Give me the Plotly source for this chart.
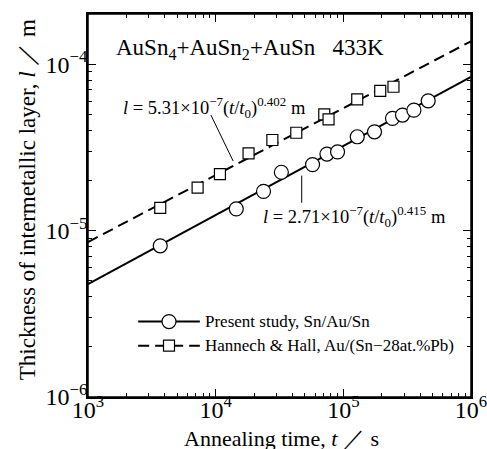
import plotly.graph_objects as go

# ---- data ----
present_t = [3680, 14500, 23700, 32700, 57400, 74400, 90100, 128500, 175400, 242700, 290800, 357000, 462000]
present_l = [8.1e-6, 1.35e-5, 1.72e-5, 2.24e-5, 2.49e-5, 2.88e-5, 2.97e-5, 3.66e-5, 3.92e-5, 4.72e-5, 4.94e-5, 5.29e-5, 6.02e-5]

hannech_t = [3680, 7220, 10800, 18100, 27800, 42800, 70900, 76600, 128500, 194500, 247000]
hannech_l = [1.37e-5, 1.81e-5, 2.18e-5, 2.91e-5, 3.50e-5, 3.87e-5, 4.99e-5, 4.66e-5, 6.14e-5, 6.91e-5, 7.31e-5]

# fit equations shown on the chart: l = a * (t/t0)^n, t0 = 1 s
fit_t = [1e3, 1e6]
present_fit = (2.71e-7, 0.415)
hannech_fit = (5.31e-7, 0.402)

x_ticks = [1e3, 1e4, 1e5, 1e6]
x_ticktext = ["10<sup>3</sup>", "10<sup>4</sup>", "10<sup>5</sup>", "10<sup>6</sup>"]
y_ticks = [1e-6, 1e-5, 1e-4]
y_ticktext = ["10<sup>−6</sup>", "10<sup>−5</sup>", "10<sup>−4</sup>"]

legend_names = ["Present study, Sn/Au/Sn", "Hannech & Hall, Au/(Sn−28at.%Pb)"]

FONT = "Liberation Serif, Times New Roman, serif"
XR = [3, 6]
YR = [-6, -3.699]


def fit_line(ab):
    a, n = ab
    return [a * t ** n for t in fit_t]


def px(f):  # fraction of plot width -> log-axis value (for legend sample placement)
    return 10 ** (XR[0] + f * (XR[1] - XR[0]))


def py(f):
    return 10 ** (YR[0] + f * (YR[1] - YR[0]))


minor_x = [m * 10 ** e for e in range(3, 6) for m in range(2, 10)]
minor_y = [m * 10 ** e for e in range(-6, -3) for m in range(2, 10)]

fig = go.Figure()

DASH = "11px,6px"
fig.add_trace(go.Scatter(x=fit_t, y=fit_line(hannech_fit), mode="lines",
                         line=dict(color="black", width=2, dash=DASH), showlegend=False))
fig.add_trace(go.Scatter(x=fit_t, y=fit_line(present_fit), mode="lines",
                         line=dict(color="black", width=2), showlegend=False))
fig.add_trace(go.Scatter(x=hannech_t, y=hannech_l, mode="markers",
                         marker=dict(symbol="square", size=11, color="white",
                                     line=dict(color="black", width=1.2)), showlegend=False))
fig.add_trace(go.Scatter(x=present_t, y=present_l, mode="markers",
                         marker=dict(symbol="circle", size=14, color="white",
                                     line=dict(color="black", width=1.2)), showlegend=False))

# hand-drawn legend samples
leg_rows = [0.197, 0.134]
leg_x = [0.131, 0.292]
leg_mid = 0.2115
for row, dash, sym, size in [(leg_rows[0], "solid", "circle", 14), (leg_rows[1], DASH, "square", 11)]:
    fig.add_trace(go.Scatter(x=[px(leg_x[0]), px(leg_x[1])], y=[py(row)] * 2, mode="lines",
                             line=dict(color="black", width=2, dash=dash), showlegend=False))
    fig.add_trace(go.Scatter(x=[px(leg_mid)], y=[py(row)], mode="markers",
                             marker=dict(symbol=sym, size=size, color="white",
                                         line=dict(color="black", width=1.2)), showlegend=False))

# invisible trace that carries the mirrored top/right tick axes
fig.add_trace(go.Scatter(x=fit_t, y=fit_line(present_fit), xaxis="x2", yaxis="y2", mode="lines",
                         line=dict(width=0, color="rgba(0,0,0,0)"), hoverinfo="skip", showlegend=False))

annotations = [
    dict(text="AuSn<sub>4</sub>+AuSn<sub>2</sub>+AuSn\u00a0\u00a0\u00a0433K", x=0.068, y=0.909,
         xanchor="left", yanchor="middle", font=dict(size=23)),
    dict(text="<i>l</i> = 5.31×10<sup>−7</sup>(<i>t</i>/<i>t</i><sub>0</sub>)<sup>0.402</sup> m",
         x=0.085, y=0.757, xanchor="left", yanchor="middle", font=dict(size=18.5)),
    dict(text="<i>l</i> = 2.71×10<sup>−7</sup>(<i>t</i>/<i>t</i><sub>0</sub>)<sup>0.415</sup> m",
         x=0.452, y=0.470, xanchor="left", yanchor="middle", font=dict(size=18.5)),
    dict(text=legend_names[0], x=0.300, y=leg_rows[0], xanchor="left", yanchor="middle", font=dict(size=17)),
    dict(text=legend_names[1], x=0.300, y=leg_rows[1], xanchor="left", yanchor="middle", font=dict(size=17)),
    dict(text="Annealing time, <i>t</i> ／ s", x=0.504, y=-0.108, xanchor="center", yanchor="middle",
         font=dict(size=22)),
    dict(text="Thickness of intermetallic layer, <i>l</i> ／ m", x=-0.159, y=0.514, textangle=-90,
         xanchor="center", yanchor="middle", font=dict(size=23)),
]
for a in annotations:
    a.update(xref="paper", yref="paper", showarrow=False)
    a["font"].update(family=FONT, color="black")

shapes = [
    dict(type="line", xref="paper", yref="paper", x0=0.321, y0=0.736, x1=0.379, y1=0.616,
         line=dict(color="black", width=1)),
    dict(type="line", xref="paper", yref="paper", x0=0.558, y0=0.578, x1=0.558, y1=0.507,
         line=dict(color="black", width=1)),
    dict(type="rect", xref="paper", yref="paper", x0=0, y0=0, x1=1, y1=1, layer="above",
         line=dict(color="black", width=1.5)),
]

axis_common = dict(showline=True, linecolor="black", linewidth=1.5, mirror="allticks",
                   ticks="inside", ticklen=8, tickwidth=1, tickcolor="black", automargin=False,
                   ticklabeloverflow="allow",
                   showgrid=False, zeroline=False, tickfont=dict(family=FONT, size=24, color="black"))
minor_common = dict(tickmode="array", ticks="inside", ticklen=4, tickcolor="black", tickwidth=1)

fig.update_layout(
    width=487, height=449,
    margin=dict(l=88, r=16, t=14, b=52),
    paper_bgcolor="white", plot_bgcolor="white",
    font=dict(family=FONT, color="black"),
    showlegend=False,
    xaxis=dict(type="log", range=XR, tickmode="array", tickvals=x_ticks, ticktext=x_ticktext,
               ticklabelstandoff=-10, minor=dict(tickvals=minor_x, **minor_common), **axis_common),
    yaxis=dict(type="log", range=YR, tickmode="array", tickvals=y_ticks, ticktext=y_ticktext,
               ticklabelstandoff=-6, minor=dict(tickvals=minor_y, **minor_common), **axis_common),
    xaxis2=dict(type="log", range=XR, overlaying="x", side="top", anchor="y2", tickmode="array",
                tickvals=x_ticks, showticklabels=False, ticks="inside", ticklen=8, tickcolor="black",
                showline=True, linecolor="black", linewidth=1.5, showgrid=False, zeroline=False,
                minor=dict(tickvals=minor_x, **minor_common)),
    yaxis2=dict(type="log", range=YR, overlaying="y", side="right", anchor="x2", tickmode="array",
                tickvals=y_ticks, showticklabels=False, ticks="inside", ticklen=8, tickcolor="black",
                showline=True, linecolor="black", linewidth=1.5, showgrid=False, zeroline=False,
                minor=dict(tickvals=minor_y, **minor_common)),
    annotations=annotations,
    shapes=shapes,
)

fig.write_html("out.html",
               config={"displayModeBar": False},
               post_script=("document.documentElement.style.overflow='hidden';"
                            "document.body.style.overflow='hidden';"
                            "document.body.style.margin='0';document.body.style.padding='0';"))
